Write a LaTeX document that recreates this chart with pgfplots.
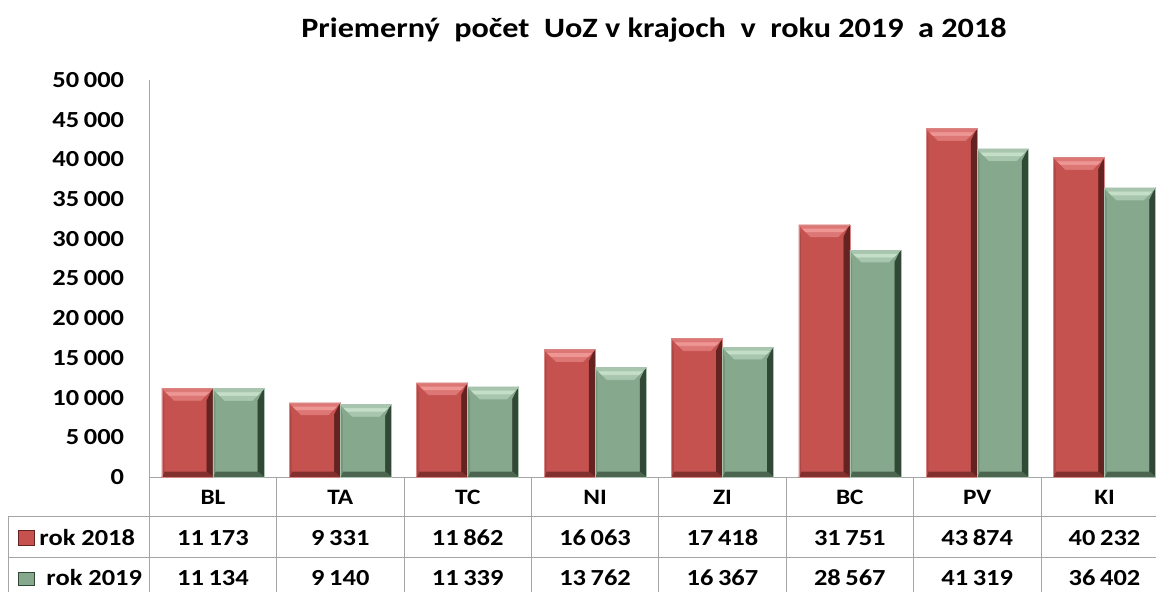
\documentclass[border=0pt]{standalone}
\usepackage{pgfplots}
\usepackage{pgfplotstable}
\pgfplotsset{compat=1.18}
\usepackage{fontspec}
\setmainfont{Carlito}[FakeStretch=1.15]

\definecolor{redface}{RGB}{198,82,80}
\definecolor{redlight}{RGB}{238,150,148}
\definecolor{reddark}{RGB}{100,34,32}
\definecolor{grnface}{RGB}{134,168,140}
\definecolor{grnlight}{RGB}{196,222,200}
\definecolor{grndark}{RGB}{50,72,54}
\definecolor{gridgray}{RGB}{165,165,165}

\pgfplotstableread{
x name y2018 y2019
0 BL 11173 11134
1 TA 9331 9140
2 TC 11862 11339
3 NI 16063 13762
4 ZI 17418 16367
5 BC 31751 28567
6 PV 43874 41319
7 KI 40232 36402
}\data

\newcommand\fs{\fontsize{23}{27}\selectfont\bfseries}

\tikzset{
  bevel/.style n args={3}{fill=#1, draw=#1!70!white, line width=0.6pt,
    path picture={
      \fill[#3, path picture={}] (path picture bounding box.north east) -- (path picture bounding box.south east)
        -- ([xshift=-6pt,yshift=5pt]path picture bounding box.south east)
        -- ([xshift=-6pt,yshift=-12pt]path picture bounding box.north east) -- cycle;
      \fill[#3!70!#1, path picture={}] (path picture bounding box.south west) -- (path picture bounding box.south east)
        -- ([xshift=-6pt,yshift=5pt]path picture bounding box.south east)
        -- ([xshift=2pt,yshift=5pt]path picture bounding box.south west) -- cycle;
      \fill[#1!88!black, path picture={}] (path picture bounding box.north west) -- ([xshift=2pt,yshift=-12pt]path picture bounding box.north west)
        -- ([xshift=2pt,yshift=5pt]path picture bounding box.south west) -- (path picture bounding box.south west) -- cycle;
      \fill[#2!55!#1, path picture={}] (path picture bounding box.north west) -- (path picture bounding box.north east)
        -- ([xshift=-12pt,yshift=-12pt]path picture bounding box.north east)
        -- ([xshift=12pt,yshift=-12pt]path picture bounding box.north west) -- cycle;
      \fill[#2, path picture={}] ([xshift=4pt,yshift=-4pt]path picture bounding box.north west)
        -- ([xshift=-4pt,yshift=-4pt]path picture bounding box.north east)
        -- ([xshift=-7pt,yshift=-7pt]path picture bounding box.north east)
        -- ([xshift=7pt,yshift=-7pt]path picture bounding box.north west) -- cycle;
    }},
  keybevel/.style n args={3}{fill=#1, draw=#3, line width=0.5pt},
}

\begin{document}
\begin{tikzpicture}
\path[use as bounding box] (0,0) rectangle (1156pt,592pt);
\begin{axis}[
  at={(149.3pt,115pt)}, anchor=south west,
  scale only axis, width=1019pt, height=397pt,
  xmin=-0.5, xmax=7.5, ymin=0, ymax=50000,
  axis x line*=bottom, axis y line*=left,
  axis line style={gridgray, line width=1pt, -},
  xtick={0,...,7},
  xticklabels={BL,TA,TC,NI,ZI,BC,PV,KI},
  ytick={0,5000,...,50000},
  major tick length=0pt,
  scaled y ticks=false,
  /pgf/number format/1000 sep={\hspace{0.2em}},
  /pgf/number format/assume math mode=true,
  yticklabel style={font=\fs, inner sep=0pt, xshift=-25pt},
  xticklabel style={font=\fontsize{22}{26}\selectfont\bfseries, inner sep=0pt, anchor=base, yshift=-27pt},
  clip=false,
  legend cell align=left,
  legend style={at={(-0.1289,-0.1335)}, anchor=north west, draw=none, fill=none,
    font=\fs, inner sep=0pt, outer sep=0pt, row sep=20pt, column sep=5pt,
    nodes={inner sep=0pt, outer sep=0pt, text height=15pt, text depth=5pt}},
]
\addlegendimage{legend image code/.code={\draw[keybevel={redface}{redlight}{reddark}] (0pt,-5pt) rectangle (16pt,10pt);}}
\addlegendentry{rok 2018}
\addlegendimage{legend image code/.code={\draw[keybevel={grnface}{grnlight}{grndark}] (0pt,-5pt) rectangle (16pt,8pt);}}
\addlegendentry{\hspace*{7pt}rok 2019}
\pgfplotsinvokeforeach{0,...,7}{
  \addplot[ybar, forget plot, bar width=51pt, bar shift=-25.5pt, restrict x to domain=#1:#1,
    bevel={redface}{redlight}{reddark}]
    table[x=x, y=y2018] {\data};
  \addplot[ybar, forget plot, bar width=51pt, bar shift=25.5pt, restrict x to domain=#1:#1,
    bevel={grnface}{grnlight}{grndark}]
    table[x=x, y=y2019] {\data};
}
% data table rows
\addplot[sharp plot, draw=none, mark=none, forget plot, point meta=explicit,
  nodes near coords={\pgfmathprintnumber{\pgfplotspointmeta}},
  every node near coord/.style={anchor=base, yshift=-68pt, inner sep=0pt, font=\fs}]
  table[x=x, y expr=0, meta=y2018] {\data};
\addplot[sharp plot, draw=none, mark=none, forget plot, point meta=explicit,
  nodes near coords={\pgfmathprintnumber{\pgfplotspointmeta}},
  every node near coord/.style={anchor=base, yshift=-108pt, inner sep=0pt, font=\fs}]
  table[x=x, y expr=0, meta=y2019] {\data};
\end{axis}
% table grid
\begin{scope}[gridgray, line width=1pt]
  \draw (149.3pt,592pt-80pt) -- (149.3pt,0pt);
  \foreach \k in {1,...,8} {
    \draw ({149.3pt+\k*127.4pt},115pt) -- ({149.3pt+\k*127.4pt},0pt);
  }
  \draw (8pt,75.5pt) -- (1170pt,75.5pt);
  \draw (8pt,34.5pt) -- (1170pt,34.5pt);
  \draw (8pt,75.5pt) -- (8pt,0pt);
\end{scope}
\node[anchor=base, inner sep=0pt, font=\fontsize{28}{32}\selectfont\bfseries] at (654pt,554pt)
  {Priemerný\ \ počet\ \ UoZ v krajoch\ \ v\ \ roku 2019\ \ a 2018};
\end{tikzpicture}
\end{document}
